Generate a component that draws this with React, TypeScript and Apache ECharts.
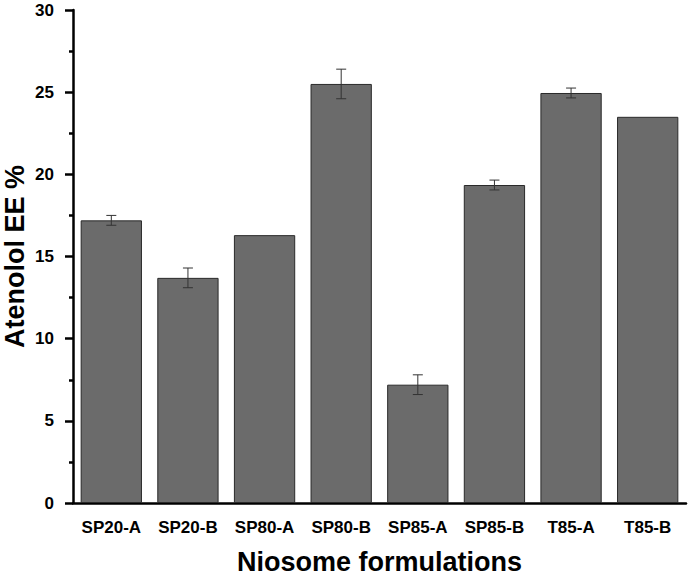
import React, { useEffect, useRef } from "react";
import * as echarts from "echarts";

const categories = ["SP20-A", "SP20-B", "SP80-A", "SP80-B", "SP85-A", "SP85-B", "T85-A", "T85-B"];
const eeValues = [17.2, 13.7, 16.3, 25.5, 7.2, 19.35, 24.95, 23.5];
const eeErrors = [0.3, 0.6, 0, 0.9, 0.6, 0.3, 0.3, 0];
const yTicks = [0, 5, 10, 15, 20, 25, 30];

const FONT = "'Liberation Sans', Arial, sans-serif";

export default function App() {
  const ref = useRef<HTMLDivElement>(null);
  useEffect(() => {
    if (!ref.current) return;
    const chart = echarts.init(ref.current, null, { renderer: "svg" });
    const errData = categories
      .map((_, i) => [i, eeValues[i] - eeErrors[i], eeValues[i] + eeErrors[i], eeErrors[i]])
      .filter((d) => d[3] > 0);
    chart.setOption({
      animation: false,
      grid: { left: 73, right: 2, top: 10, bottom: 75, containLabel: false, outerBoundsMode: "none" },
      xAxis: {
        type: "category",
        data: categories,
        name: "Niosome formulations",
        nameLocation: "middle",
        nameGap: 45,
        nameMoveOverlap: false,
        nameTextStyle: { fontFamily: FONT, fontWeight: "bold", fontSize: 27, color: "#000" },
        axisLine: { lineStyle: { color: "#000", width: 2.5 } },
        axisTick: { alignWithLabel: true, length: 7, lineStyle: { color: "#000", width: 2.5 } },
        axisLabel: { interval: 0, hideOverlap: false, fontFamily: FONT, fontWeight: "bold", fontSize: 17, color: "#000", margin: 16 },
      },
      yAxis: {
        type: "value",
        min: yTicks[0],
        max: yTicks[yTicks.length - 1],
        interval: 5,
        name: "Atenolol EE %",
        nameLocation: "middle",
        nameGap: 45,
        nameMoveOverlap: false,
        nameTextStyle: { fontFamily: FONT, fontWeight: "bold", fontSize: 27, color: "#000" },
        axisLine: { show: true, lineStyle: { color: "#000", width: 2.5 } },
        axisTick: { show: true, length: 8, lineStyle: { color: "#000", width: 2.5 } },
        minorTick: { show: true, splitNumber: 2, length: 4, lineStyle: { color: "#000", width: 2.5 } },
        splitLine: { show: false },
        axisLabel: { fontFamily: FONT, fontWeight: "bold", fontSize: 17, color: "#000", margin: 19 },
      },
      series: [
        {
          type: "bar",
          data: eeValues,
          barCategoryGap: "20%",
          itemStyle: { color: "#6b6b6b", borderColor: "#2a2a2a", borderWidth: 1 },
        },
        {
          type: "custom",
          data: errData,
          z: 10,
          renderItem: (params: any, api: any) => {
            const idx = api.value(0);
            const lo = api.coord([idx, api.value(1)]);
            const hi = api.coord([idx, api.value(2)]);
            const hw = 5;
            const style = { stroke: "#333", lineWidth: 1 };
            return {
              type: "group",
              children: [
                { type: "line", shape: { x1: hi[0], y1: hi[1], x2: lo[0], y2: lo[1] }, style },
                { type: "line", shape: { x1: hi[0] - hw, y1: hi[1], x2: hi[0] + hw, y2: hi[1] }, style },
                { type: "line", shape: { x1: lo[0] - hw, y1: lo[1], x2: lo[0] + hw, y2: lo[1] }, style },
              ],
            };
          },
        },
      ],
    });
    return () => chart.dispose();
  }, []);
  return <div ref={ref} style={{ width: 688, height: 578, position: "absolute", left: 0, top: 0, background: "#fff" }} />;
}
